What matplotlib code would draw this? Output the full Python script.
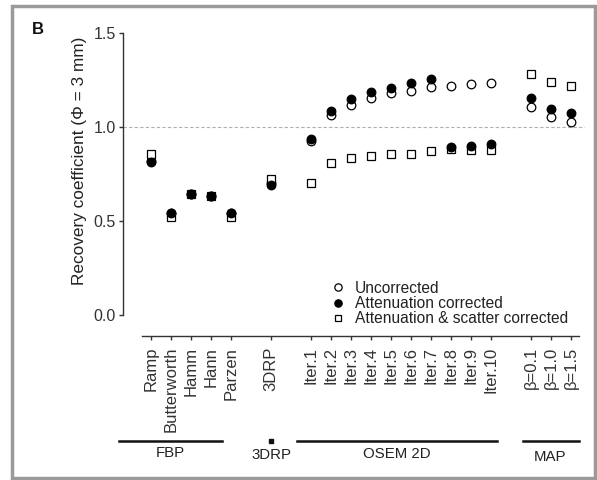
import matplotlib
matplotlib.use('Agg')
import matplotlib.pyplot as plt
from matplotlib.patches import Rectangle
from matplotlib.transforms import blended_transform_factory

plt.rcParams['font.family'] = ['Liberation Sans', 'DejaVu Sans']

# categories and their slot on the x axis (gaps between the groups)
labels = ['Ramp', 'Butterworth', 'Hamm', 'Hann', 'Parzen', '3DRP',
          'Iter.1', 'Iter.2', 'Iter.3', 'Iter.4', 'Iter.5', 'Iter.6', 'Iter.7',
          'Iter.8', 'Iter.9', 'Iter.10', 'β=0.1', 'β=1.0', 'β=1.5']
xpos = [0, 1, 2, 3, 4, 6, 8, 9, 10, 11, 12, 13, 14, 15, 16, 17, 19, 20, 21]

uncorrected = [0.82, 0.54, 0.645, 0.635, 0.54, 0.70,
               0.925, 1.065, 1.117, 1.152, 1.179, 1.193, 1.211, 1.22, 1.229, 1.236,
               1.108, 1.052, 1.025]
atten = [0.815, 0.54, 0.642, 0.633, 0.54, 0.69,
         0.934, 1.085, 1.148, 1.184, 1.209, 1.232, 1.255, 0.895, 0.90, 0.91,
         1.152, 1.096, 1.073]
atten_scatter = [0.856, 0.523, 0.645, 0.635, 0.523, 0.725,
                 0.704, 0.806, 0.836, 0.845, 0.856, 0.856, 0.874, 0.883, 0.878, 0.88,
                 1.282, 1.241, 1.218]

groups = ['FBP', '3DRP', 'OSEM 2D', 'MAP']

fig = plt.figure(figsize=(5.97, 4.80), dpi=100)
W, H = 597, 480
ax = fig.add_axes([123 / W, 1 - 315 / H, 462 / W, 282 / H])

ms = 6.2
ax.plot(xpos, uncorrected, 'o', ms=ms, mfc='white', mec='black', mew=0.9,
        label='Uncorrected', zorder=3)
ax.plot(xpos, atten_scatter, 's', ms=ms - 0.3, mfc='white', mec='black', mew=0.9,
        label='Attenuation & scatter corrected', zorder=4)
ax.plot(xpos, atten, 'o', ms=ms, mfc='black', mec='black', mew=0.9,
        label='Attenuation corrected', zorder=5)

ax.axhline(1.0, color='#b0b0b0', lw=0.8, ls=(0, (3, 2)), zorder=1)

ax.set_xlim(-1.4, 21.7)
ax.set_ylim(0, 1.5)
ax.set_yticks([0.0, 0.5, 1.0, 1.5])
ax.set_yticklabels(['0.0', '0.5', '1.0', '1.5'])
ax.set_xticks(xpos)
ax.set_xticklabels(labels)

for s in ['top', 'right']:
    ax.spines[s].set_visible(False)
ax.spines['left'].set_color('#333333')
ax.spines['bottom'].set_color('#333333')
ax.spines['left'].set_linewidth(1.0)
ax.spines['bottom'].set_linewidth(1.0)
ax.spines['bottom'].set_position(('outward', 15))
ax.spines['bottom'].set_bounds(-0.47, 21.4)
ax.tick_params(axis='both', direction='out', length=3, width=1.0,
               color='#333333', labelcolor='#333333')
ax.tick_params(axis='x', pad=5, labelrotation=90, labelsize=12)
ax.tick_params(axis='y', pad=2, labelsize=11.5)
for t in ax.get_xticklabels():
    t.set_verticalalignment('top')
    t.set_horizontalalignment('center')

ax.set_ylabel('Recovery coefficient (Φ = 3 mm)', fontsize=12.4, color='#222222')
ax.yaxis.set_label_coords(-0.078, 0.546)

# legend
handles, lbls = ax.get_legend_handles_labels()
order = [0, 2, 1]
leg = ax.legend([handles[i] for i in order], [lbls[i] for i in order],
                loc='upper left', bbox_to_anchor=(322 / W, 1 - 273 / H),
                bbox_transform=fig.transFigure, frameon=False, fontsize=11.2,
                handlelength=1.0, handletextpad=0.6, labelspacing=0.02,
                borderpad=0, markerscale=0.85)
for t in leg.get_texts():
    t.set_color('#222222')

# group lines under the tick labels
tr = blended_transform_factory(ax.transData, fig.transFigure)
yl = 1 - 441 / H
ax.plot([-1.6, 3.55], [yl, yl], color='#111111', lw=1.8, transform=tr, clip_on=False)
ax.plot([6], [yl], 's', color='#111111', ms=2.5, transform=tr, clip_on=False)
ax.plot([7.3, 17.3], [yl, yl], color='#111111', lw=1.8, transform=tr, clip_on=False)
ax.plot([18.6, 21.4], [yl, yl], color='#111111', lw=1.8, transform=tr, clip_on=False)
gx = [0.95, 6, 12.3, 19.95]
gy = [453, 455, 454, 457]
for name, x, y in zip(groups, gx, gy):
    ax.text(x, 1 - y / H, name, transform=tr, ha='center', va='center',
            fontsize=10.8, color='#222222')

fig.text(38 / W, 1 - 30 / H, 'B', fontsize=12, fontweight='bold',
         ha='center', va='center', color='#111111')

fig.patches.append(Rectangle((12 / W, 1 - 478 / H), 583 / W, 472 / H,
                             transform=fig.transFigure, fill=False,
                             edgecolor='#9a9a9a', lw=2.5))

fig.savefig('out.png', dpi=100)
